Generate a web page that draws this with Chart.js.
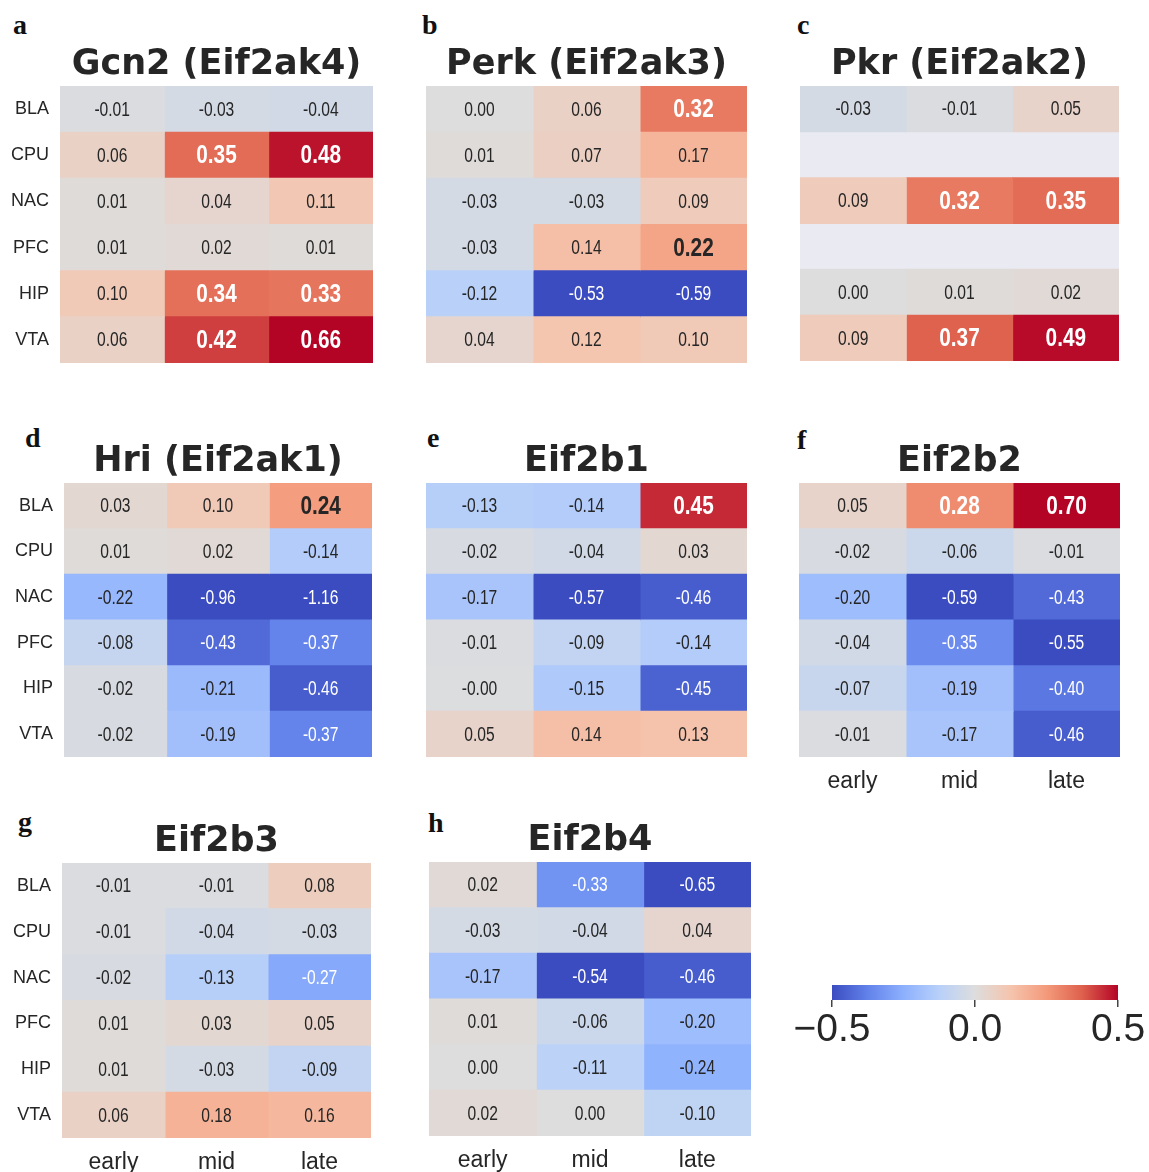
<!DOCTYPE html>
<html>
<head>
<meta charset="utf-8">
<script src="https://cdn.jsdelivr.net/npm/chart.js@4"></script>
<style>
  body { margin: 0; background: #fff; overflow: hidden; }
  #fig { position: relative; width: 1149px; height: 1172px; }
  #fig canvas { position: absolute; }
  .tag { position: absolute; font: bold 28px 'Liberation Serif', serif; line-height: 28px; color: #111; }
</style>
</head>
<body>
<div id="fig"></div>
<script>
// rows = brain regions, columns = time points
var rows = ["BLA", "CPU", "NAC", "PFC", "HIP", "VTA"];
var cols = ["early", "mid", "late"];

var gcn2 = [
  [-0.01, -0.03, -0.04],
  [0.06, 0.35, 0.48],
  [0.01, 0.04, 0.11],
  [0.01, 0.02, 0.01],
  [0.10, 0.34, 0.33],
  [0.06, 0.42, 0.66]
];
var perk = [
  [0.00, 0.06, 0.32],
  [0.01, 0.07, 0.17],
  [-0.03, -0.03, 0.09],
  [-0.03, 0.14, 0.22],
  [-0.12, -0.53, -0.59],
  [0.04, 0.12, 0.10]
];
var pkr = [
  [-0.03, -0.01, 0.05],
  null,
  [0.09, 0.32, 0.35],
  null,
  [0.00, 0.01, 0.02],
  [0.09, 0.37, 0.49]
];
var hri = [
  [0.03, 0.10, 0.24],
  [0.01, 0.02, -0.14],
  [-0.22, -0.96, -1.16],
  [-0.08, -0.43, -0.37],
  [-0.02, -0.21, -0.46],
  [-0.02, -0.19, -0.37]
];
var eif2b1 = [
  [-0.13, -0.14, 0.45],
  [-0.02, -0.04, 0.03],
  [-0.17, -0.57, -0.46],
  [-0.01, -0.09, -0.14],
  [-0.004, -0.15, -0.45],
  [0.05, 0.14, 0.13]
];
var eif2b2 = [
  [0.05, 0.28, 0.70],
  [-0.02, -0.06, -0.01],
  [-0.20, -0.59, -0.43],
  [-0.04, -0.35, -0.55],
  [-0.07, -0.19, -0.40],
  [-0.01, -0.17, -0.46]
];
var eif2b3 = [
  [-0.01, -0.01, 0.08],
  [-0.01, -0.04, -0.03],
  [-0.02, -0.13, -0.27],
  [0.01, 0.03, 0.05],
  [0.01, -0.03, -0.09],
  [0.06, 0.18, 0.16]
];
var eif2b4 = [
  [0.02, -0.33, -0.65],
  [-0.03, -0.04, 0.04],
  [-0.17, -0.54, -0.46],
  [0.01, -0.06, -0.20],
  [0.00, -0.11, -0.24],
  [0.02, 0.00, -0.10]
];
var cbarTicks = [-0.5, 0, 0.5];

var SANS = "'Liberation Sans', Arial, sans-serif";
var INK = '#262626';

// matplotlib coolwarm, sampled every 1/8
var cw = [[59,76,192],[98,130,234],[141,176,254],[184,208,249],[221,221,221],
          [245,196,173],[244,154,123],[222,96,77],[180,4,38]];
function coolwarm(v) {
  var t = Math.max(0, Math.min(1, v + 0.5));
  var p = t * 8, i = Math.min(7, Math.floor(p)), f = p - i;
  var c = [0,1,2].map(function(k) { return Math.round(cw[i][k] + (cw[i+1][k] - cw[i][k]) * f); });
  return 'rgb(' + c.join(',') + ')';
}

var fig = document.getElementById('fig');

var panels = [
  {tag: 'a', tx: 13, ty: 35, title: 'Gcn2 (Eif2ak4)', values: gcn2, box: [60, 86, 373, 363], ylab: true, xlab: false},
  {tag: 'b', tx: 422, ty: 35, title: 'Perk (Eif2ak3)', values: perk, box: [426, 86, 747, 363], ylab: false, xlab: false},
  {tag: 'c', tx: 797, ty: 35, title: 'Pkr (Eif2ak2)', values: pkr, box: [800, 86, 1119, 361], ylab: false, xlab: false},
  {tag: 'd', tx: 25, ty: 448, title: 'Hri (Eif2ak1)', values: hri, box: [64, 483, 372, 757], ylab: true, xlab: false},
  {tag: 'e', tx: 427, ty: 448, title: 'Eif2b1', values: eif2b1, box: [426, 483, 747, 757], ylab: false, xlab: false},
  {tag: 'f', tx: 797, ty: 450, title: 'Eif2b2', values: eif2b2, box: [799, 483, 1120, 757], ylab: false, xlab: true},
  {tag: 'g', tx: 18, ty: 832, title: 'Eif2b3', values: eif2b3, box: [62, 863, 371, 1138], ylab: true, xlab: true},
  {tag: 'h', tx: 428, ty: 833, title: 'Eif2b4', values: eif2b4, box: [429, 862, 751, 1136], ylab: false, xlab: true}
];

function makePanel(p) {
  var l = p.box[0], t = p.box[1], r = p.box[2], b = p.box[3];

  var tag = document.createElement('div');
  tag.className = 'tag';
  tag.textContent = p.tag;
  tag.style.left = p.tx + 'px';
  tag.style.top = (p.ty - 24) + 'px';
  fig.appendChild(tag);

  var cv = document.createElement('canvas');
  cv.width = r - l + 66;
  cv.height = b - t + 47 + (p.xlab ? 44 : 4);
  cv.style.left = (l - 60) + 'px';
  cv.style.top = (t - 47) + 'px';
  fig.appendChild(cv);

  var datasets = cols.map(function(c, j) {
    return {
      label: c,
      data: p.values.map(function(row) { return row ? 1 : null; }),
      backgroundColor: p.values.map(function(row) { return row ? coolwarm(row[j]) : 'rgba(0,0,0,0)'; }),
      borderWidth: 0,
      inflateAmount: 0.5,
      barPercentage: 1,
      categoryPercentage: 1
    };
  });

  var background = {
    id: 'background',
    beforeDatasetsDraw: function(chart) {
      var a = chart.chartArea, ctx = chart.ctx;
      ctx.save();
      ctx.fillStyle = '#eaeaf2';
      ctx.fillRect(a.left, a.top, a.right - a.left, a.bottom - a.top);
      ctx.restore();
    }
  };

  // annotate each cell; the source font is condensed, so squeeze horizontally
  var cellText = {
    id: 'cellText',
    afterDatasetsDraw: function(chart) {
      var ctx = chart.ctx;
      chart.data.datasets.forEach(function(ds, j) {
        chart.getDatasetMeta(j).data.forEach(function(bar, i) {
          var row = p.values[i];
          if (!row) return;
          var v = row[j];
          var strong = v >= 0.2;
          var c = bar.getCenterPoint();
          ctx.save();
          ctx.textAlign = 'center';
          ctx.textBaseline = 'middle';
          ctx.font = strong ? 'bold 26px ' + SANS : '20px ' + SANS;
          ctx.fillStyle = Math.abs(v) > 0.25 ? '#ffffff' : INK;
          ctx.translate(c.x, c.y + 1);
          ctx.scale(strong ? 0.8 : 0.78, 1);
          ctx.fillText(v.toFixed(2), 0, 0);
          ctx.restore();
        });
      });
    }
  };

  new Chart(cv, {
    type: 'bar',
    data: {labels: rows, datasets: datasets},
    options: {
      indexAxis: 'y',
      responsive: false,
      animation: false,
      events: [],
      layout: {padding: {right: 6, bottom: p.xlab ? 0 : 4}},
      plugins: {
        legend: {display: false},
        tooltip: {enabled: false},
        title: {
          display: true,
          text: p.title,
          fullSize: false,
          color: INK,
          font: {family: "'DejaVu Sans', sans-serif", weight: 'bold', size: 35, lineHeight: 1.2},
          padding: {top: 5, bottom: 0}
        }
      },
      scales: {
        x: {
          stacked: true, min: 0, max: 3,
          display: p.xlab,
          grid: {display: false, drawTicks: false},
          border: {display: false},
          afterBuildTicks: function(s) { s.ticks = [0.5, 1.5, 2.5].map(function(v) { return {value: v}; }); },
          afterFit: function(s) { s.height = p.xlab ? 44 : 0; },
          ticks: {
            callback: function(v, i) { return cols[i]; },
            font: {family: SANS, size: 23},
            color: INK,
            padding: 11,
            maxRotation: 0
          }
        },
        y: {
          stacked: true,
          grid: {display: false, drawTicks: false},
          border: {display: false},
          afterFit: function(s) { s.width = 60; s.paddingTop = 0; s.paddingBottom = 0; },
          ticks: {display: p.ylab, font: {family: SANS, size: 18}, color: INK, padding: 11}
        }
      }
    },
    plugins: [background, cellText]
  });
}

panels.forEach(makePanel);

// colour bar
(function() {
  var cv = document.createElement('canvas');
  cv.width = 358;
  cv.height = 81;
  cv.style.left = '790px';
  cv.style.top = '985px';
  fig.appendChild(cv);

  new Chart(cv, {
    type: 'bar',
    data: {
      labels: [''],
      datasets: [{
        data: [[cbarTicks[0], cbarTicks[cbarTicks.length - 1]]],
        borderWidth: 0,
        barPercentage: 1,
        categoryPercentage: 1,
        backgroundColor: function(c) {
          var ch = c.chart;
          if (!ch.chartArea) return '#dddddd';
          var x0 = ch.scales.x.getPixelForValue(-0.5), x1 = ch.scales.x.getPixelForValue(0.5);
          var g = ch.ctx.createLinearGradient(x0, 0, x1, 0);
          cw.forEach(function(s, k) { g.addColorStop(k / 8, 'rgb(' + s.join(',') + ')'); });
          return g;
        }
      }]
    },
    options: {
      indexAxis: 'y',
      responsive: false,
      animation: false,
      events: [],
      layout: {padding: {left: 42, right: 30}},
      plugins: {legend: {display: false}, tooltip: {enabled: false}},
      scales: {
        x: {
          min: -0.5, max: 0.5,
          afterBuildTicks: function(s) { s.ticks = cbarTicks.map(function(v) { return {value: v}; }); },
          afterFit: function(s) { s.height = 66; },
          grid: {drawOnChartArea: false, drawTicks: true, tickLength: 7, color: '#444', lineWidth: 1.5},
          border: {display: false},
          ticks: {
            callback: function(v) { return (v < 0 ? '\u2212' : '') + Math.abs(v).toFixed(1); },
            font: {family: SANS, size: 39},
            color: INK,
            padding: 0,
            maxRotation: 0
          }
        },
        y: {display: false}
      }
    }
  });
})();
</script>
</body>
</html>
